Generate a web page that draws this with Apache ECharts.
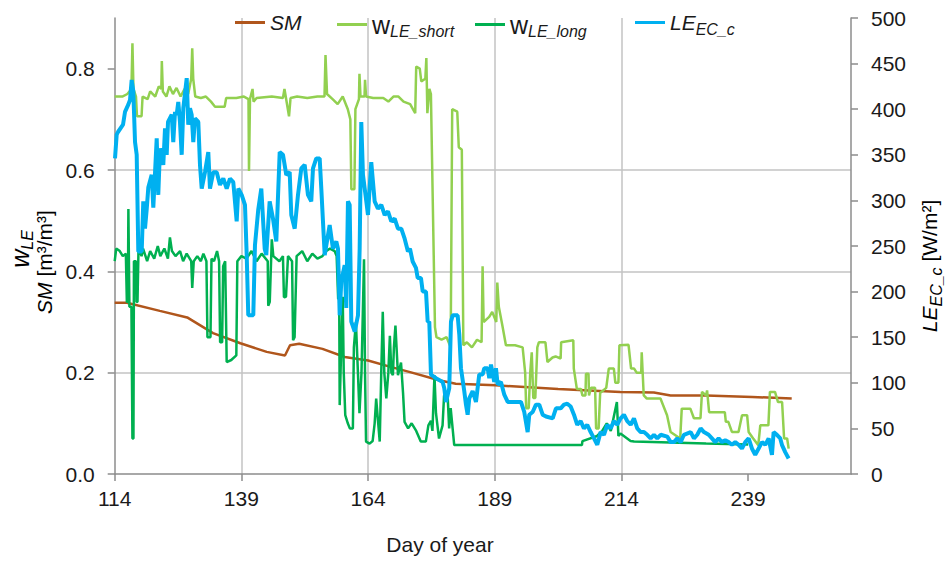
<!DOCTYPE html>
<html><head><meta charset="utf-8">
<script src="https://cdn.jsdelivr.net/npm/echarts@6/dist/echarts.min.js"></script>
<style>html,body{margin:0;padding:0;background:#fff}#c{width:946px;height:562px}</style>
</head><body><div id="c"></div>
<script>
// ---- data ----
const xTicks = [114, 139, 164, 189, 214, 239];
const leftTicks = [0, 0.2, 0.4, 0.6, 0.8];
const rightTicks = [0, 50, 100, 150, 200, 250, 300, 350, 400, 450, 500];

const smDays = [114,116.4,122.9,128.3,133.4,138.8,144,147.6,148.6,150.4,155,159.4,164,168.6,172.3,178,181.3,189.2,201.5,213.8,220.4,223.7,230.7,239.8,247.6];
const smVals = [0.338,0.338,0.322,0.309,0.278,0.258,0.241,0.234,0.254,0.257,0.247,0.231,0.224,0.211,0.201,0.185,0.178,0.175,0.168,0.162,0.161,0.155,0.155,0.152,0.149];

const wShortDays = [114.0,115.5,116.5,117.3,117.5,117.7,118.2,118.4,119.3,119.5,120.5,121.0,122.0,122.7,123.2,123.3,123.5,124.2,124.8,125.5,126.2,127.0,127.8,128.5,129.1,129.3,129.5,129.9,131.0,132.0,133.0,133.8,135.7,136.0,138.0,139.5,140.4,140.5,140.7,141.2,141.4,142.0,145.0,147.2,147.5,147.8,148.4,148.7,150.0,152.0,154.0,155.4,155.6,155.9,157.0,158.0,159.0,160.0,160.5,160.7,161.3,161.5,162.2,162.3,162.5,163.3,163.4,163.6,165.0,167.0,168.0,169.0,170.0,171.0,172.3,173.3,173.5,174.2,174.5,175.3,175.5,175.7,176.1,176.4,177.2,177.5,178.5,179.5,180.3,180.6,181.6,181.9,182.5,182.8,183.5,184.5,185.5,186.4,186.6,186.8,187.9,188.5,189.3,189.5,189.8,190.5,191.2,193.0,194.5,195.0,195.2,195.7,196.0,196.3,196.6,197.0,197.4,197.7,199.0,199.4,200.4,201.0,202.0,202.1,204.5,204.6,205.2,206.0,206.3,206.9,207.0,207.5,207.6,208.0,208.8,209.0,209.5,209.8,211.0,211.5,212.5,212.8,213.4,213.6,215.4,215.9,216.5,217.0,217.9,218.0,218.4,219.0,221.7,223.0,223.7,225.6,225.9,227.6,228.3,229.6,229.9,230.7,230.9,231.3,234.4,234.6,235.1,235.8,237.1,237.8,238.8,239.1,240.0,241.0,241.4,243.0,243.3,244.3,244.9,245.7,246.1,246.7,247.0];
const wShortVals = [0.745,0.745,0.75,0.76,0.85,0.76,0.745,0.706,0.706,0.745,0.74,0.755,0.745,0.765,0.76,0.815,0.755,0.745,0.765,0.75,0.762,0.745,0.76,0.75,0.78,0.84,0.78,0.745,0.742,0.745,0.735,0.725,0.725,0.742,0.742,0.745,0.74,0.598,0.74,0.76,0.735,0.742,0.745,0.742,0.76,0.742,0.706,0.742,0.745,0.742,0.745,0.745,0.827,0.75,0.74,0.73,0.745,0.72,0.70,0.562,0.562,0.72,0.74,0.79,0.745,0.745,0.778,0.745,0.742,0.742,0.735,0.745,0.745,0.735,0.73,0.712,0.804,0.80,0.775,0.78,0.821,0.712,0.76,0.75,0.29,0.27,0.265,0.27,0.25,0.72,0.715,0.645,0.64,0.254,0.26,0.25,0.265,0.26,0.41,0.30,0.31,0.32,0.30,0.378,0.33,0.293,0.254,0.254,0.25,0.20,0.13,0.13,0.20,0.24,0.15,0.15,0.25,0.26,0.26,0.221,0.23,0.232,0.228,0.26,0.264,0.208,0.168,0.168,0.155,0.155,0.198,0.198,0.155,0.17,0.17,0.09,0.09,0.16,0.17,0.208,0.208,0.18,0.18,0.254,0.255,0.208,0.208,0.20,0.20,0.24,0.155,0.149,0.149,0.116,0.083,0.07,0.129,0.129,0.11,0.11,0.162,0.155,0.165,0.122,0.122,0.103,0.103,0.083,0.083,0.116,0.116,0.083,0.07,0.057,0.096,0.096,0.162,0.162,0.142,0.142,0.07,0.07,0.05];

const wLongDays = [114.0,114.3,115.0,115.6,116.2,116.4,116.6,116.7,116.9,117.3,117.5,117.7,117.8,118.2,118.3,118.5,118.7,119.3,119.6,120.4,121.0,121.8,122.5,123.0,123.8,124.5,124.9,125.3,126.0,126.9,127.5,128.2,129.1,129.3,129.6,130.3,131.0,131.5,132.1,132.3,132.9,133.1,133.6,134.2,134.6,134.8,135.2,135.4,135.8,136.1,137.0,138.0,138.2,139.0,140.0,141.0,142.0,143.0,144.2,144.3,144.6,145.0,145.3,146.5,147.2,147.4,147.8,148.2,149.0,149.2,149.5,149.9,151.0,152.0,153.0,154.0,155.0,155.7,156.5,157.4,157.8,158.1,158.3,158.4,158.7,159.0,159.2,159.5,160.0,160.4,161.0,161.2,161.6,162.0,162.3,162.7,163.2,163.4,163.6,164.3,164.9,165.3,165.6,166.0,166.3,166.6,166.9,167.2,167.6,168.0,168.3,168.6,168.9,169.1,169.4,169.9,170.5,170.9,171.2,171.9,172.6,173.5,174.4,175.4,175.9,176.4,176.7,177.1,177.4,178.0,178.7,179.0,179.7,180.0,180.3,181.0,206.2,206.3,209.2,210.2,211.1,211.9,213.1,213.4,213.8,215.8,216.5,230.7,239.0];
const wLongVals = [0.42,0.445,0.44,0.43,0.435,0.339,0.34,0.523,0.33,0.33,0.07,0.07,0.42,0.42,0.339,0.34,0.445,0.43,0.445,0.42,0.44,0.425,0.45,0.43,0.445,0.425,0.467,0.44,0.43,0.44,0.42,0.435,0.42,0.367,0.42,0.43,0.42,0.435,0.42,0.27,0.27,0.425,0.42,0.44,0.42,0.26,0.26,0.41,0.42,0.221,0.225,0.234,0.42,0.43,0.425,0.44,0.42,0.435,0.42,0.332,0.34,0.463,0.43,0.42,0.43,0.349,0.35,0.43,0.42,0.264,0.27,0.43,0.44,0.42,0.435,0.425,0.43,0.44,0.445,0.44,0.43,0.345,0.35,0.136,0.25,0.35,0.2,0.116,0.1,0.09,0.09,0.25,0.3,0.2,0.12,0.2,0.424,0.2,0.064,0.06,0.065,0.1,0.149,0.1,0.064,0.2,0.32,0.2,0.149,0.2,0.273,0.2,0.195,0.25,0.293,0.195,0.22,0.16,0.103,0.09,0.1,0.085,0.064,0.064,0.096,0.105,0.085,0.195,0.12,0.07,0.096,0.155,0.155,0.09,0.13,0.057,0.057,0.065,0.075,0.085,0.1,0.085,0.142,0.075,0.08,0.065,0.064,0.06,0.058];

const leDays = [114.06,114.39,114.65,115.64,116.03,116.68,117.02,117.35,117.67,118.01,118.34,118.66,119.33,119.64,119.98,120.31,120.63,121.3,121.62,122.29,122.6,122.94,123.59,123.93,124.26,124.52,125.25,125.56,125.9,126.23,126.55,126.88,127.22,127.54,128.21,128.52,128.86,129.19,129.51,129.84,130.5,130.83,131.17,131.82,132.47,132.8,133.46,134.13,134.78,135.43,136.1,136.75,137.4,138.07,138.39,139.06,139.71,140.05,140.36,141.35,141.68,142.33,142.93,143.6,143.91,144.58,145.24,145.89,146.56,147.21,147.86,148.53,148.85,149.52,150.17,150.82,151.49,152.14,152.79,153.13,153.78,154.45,154.77,155.44,156.09,156.42,157.07,157.73,158.06,158.4,158.71,159.38,159.7,160.03,160.37,160.69,161.36,162.01,162.34,162.66,162.99,163.65,163.98,164.63,165.3,165.95,166.61,167.28,167.93,168.58,169.25,169.9,170.55,171.22,171.87,172.27,172.8,173.45,173.79,174.44,174.78,175.43,175.76,176.08,176.41,177.4,178.72,179.04,179.37,180.02,180.36,180.69,181.68,182.0,182.33,182.98,183.32,183.65,183.97,184.64,185.29,185.94,186.61,186.93,187.6,187.92,188.25,188.9,189.24,189.57,190.22,190.88,191.55,192.2,193.19,194.17,194.82,195.49,195.81,196.48,197.13,197.78,198.45,199.11,200.43,201.08,202.01,202.66,203.31,203.98,204.63,205.28,205.95,206.6,207.25,207.92,208.58,209.23,209.9,210.55,211.2,211.87,212.52,213.17,213.84,214.49,215.15,215.82,216.47,217.12,217.79,218.44,219.09,219.76,220.41,221.07,221.74,223.04,223.71,224.36,225.01,225.68,226.33,227.66,228.31,228.96,229.63,230.28,231.21,231.86,232.51,233.18,233.83,234.48,235.15,235.8,236.46,237.13,237.78,238.43,239.1,239.75,240.4,241.07,241.73,242.38,243.05,243.7,244.03,244.68,245.34,245.67,246.32,246.99];
const leVals = [346,372,375,383,397,405,410,432,420,364,350,244,244,299,269,290,314,328,292,368,306,357,339,379,350,386,394,364,397,394,408,386,350,401,434,383,401,394,364,390,386,339,313,331,353,313,331,331,317,324,313,324,320,277,313,306,295,240,174,174,251,290,313,247,240,299,280,255,353,350,328,331,284,269,306,335,339,306,299,335,346,346,313,240,262,273,247,255,247,174,211,229,182,299,295,167,156,174,247,386,328,299,284,342,299,291,295,284,288,277,280,269,269,258,244,247,233,226,215,215,200,200,167,167,109,105,101,94,79,94,167,174,174,153,116,91,76,65,83,91,79,109,109,116,116,105,120,101,116,98,101,87,79,79,79,79,68,46,65,68,76,76,65,63,61,72,72,76,77,74,65,54,58,50,54,46,39,32,46,43,54,50,58,54,61,65,58,54,61,50,46,46,43,39,43,39,43,41,35,35,39,35,43,46,39,43,50,46,43,39,35,39,35,37,35,32,35,32,28,35,39,28,21,28,35,32,39,21,46,43,39,32,24,17];

// ---- chart ----
const zip = (a, b) => a.map((d, i) => [d, b[i]]);
const FONT = '"Liberation Sans", Arial, sans-serif';
const TXT = '#1a1a1a';
const AXIS = '#8c8c8c';
const GRID = '#c3c3c3';
const C_SM = '#b0561c', C_WS = '#92d050', C_WL = '#00b050', C_LE = '#00b0f0';

const rich = {
  n: {fontFamily: FONT, fontSize: 25, color: TXT, lineHeight: 30, verticalAlign: 'middle'},
  it: {fontFamily: FONT, fontSize: 21, fontStyle: 'italic', color: TXT, lineHeight: 30, verticalAlign: 'middle'},
  iw: {fontFamily: FONT, fontSize: 25, fontStyle: 'italic', color: TXT, lineHeight: 30, verticalAlign: 'middle'},
  s: {fontFamily: FONT, fontSize: 16, fontStyle: 'italic', color: TXT, lineHeight: 16, verticalAlign: 'bottom'}
};
const legendLabels = {
  'SM': '{it|SM}',
  'wshort': '{n|w}{s|LE_short}',
  'wlong': '{n|w}{s|LE_long}',
  'LE': '{it|LE}{s|EC_c}'
};
function mkLegend(name, left) {
  return {
    data: [name], left: left, top: 12, padding: 0, itemWidth: 30, itemHeight: 3,
    icon: 'rect', selectedMode: false,
    formatter: n => legendLabels[n],
    textStyle: {rich: rich, fontFamily: FONT, fontSize: 21, color: TXT}
  };
}

const chart = echarts.init(document.getElementById('c'), null, {renderer: 'svg'});
chart.setOption({
  animation: false,
  backgroundColor: '#fff',
  grid: {left: 114.7, right: 95, top: 18, bottom: 88, containLabel: false, outerBoundsMode: 'none'},
  legend: [mkLegend('SM', 235), mkLegend('wshort', 337), mkLegend('wlong', 475), mkLegend('LE', 635)],
  xAxis: {
    type: 'value', min: 114, max: 259.3, interval: 25,
    axisLine: {show: true, onZero: false, lineStyle: {color: AXIS, width: 1.5}},
    axisTick: {show: true, length: 7, lineStyle: {color: AXIS, width: 1.5}, customValues: xTicks},
    axisLabel: {customValues: xTicks, margin: 14, fontFamily: FONT, fontSize: 21, color: TXT},
    splitLine: {show: true, showMinLine: false, showMaxLine: false, lineStyle: {color: GRID, width: 1.5}}
  },
  yAxis: [{
    type: 'value', min: 0, max: 0.9, interval: 0.2, position: 'left',
    axisLine: {show: true, lineStyle: {color: AXIS, width: 1.5}},
    axisTick: {show: true, length: 7, lineStyle: {color: AXIS, width: 1.5}, customValues: leftTicks},
    axisLabel: {customValues: leftTicks, margin: 20, fontFamily: FONT, fontSize: 21, color: TXT,
      formatter: v => v.toFixed(1)},
    splitLine: {show: true, showMinLine: false, showMaxLine: false, lineStyle: {color: GRID, width: 1.5}}
  }, {
    type: 'value', min: 0, max: 500, interval: 50, position: 'right',
    axisLine: {show: true, lineStyle: {color: AXIS, width: 1.5}},
    axisTick: {show: true, length: 7, lineStyle: {color: AXIS, width: 1.5}, customValues: rightTicks},
    axisLabel: {customValues: rightTicks, margin: 20, fontFamily: FONT, fontSize: 21, color: TXT},
    splitLine: {show: false}
  }],
  graphic: [
    {type: 'text', x: 20, y: 249, rotation: Math.PI / 2,
      style: {text: '{iw|w}{s|LE}', rich: rich, align: 'center', verticalAlign: 'middle'}},
    {type: 'text', x: 44, y: 262, rotation: Math.PI / 2,
      style: {text: '{it|SM}{n| [m³/m³]}', rich: {it: {fontFamily: FONT, fontSize: 21, fontStyle: 'italic', color: TXT}, n: {fontFamily: FONT, fontSize: 21, color: TXT}}, align: 'center', verticalAlign: 'middle'}},
    {type: 'text', x: 929, y: 266, rotation: Math.PI / 2,
      style: {text: '{it|LE}{s|EC_c}{n| [W/m²]}', rich: {it: rich.it, s: rich.s, n: {fontFamily: FONT, fontSize: 21, color: TXT, lineHeight: 30, verticalAlign: 'middle'}}, align: 'center', verticalAlign: 'middle'}},
    {type: 'text', x: 440, y: 544,
      style: {text: 'Day of year', fontFamily: FONT, fontSize: 21, fill: TXT, align: 'center', verticalAlign: 'middle'}}
  ],
  series: [
    {name: 'SM', type: 'line', yAxisIndex: 0, data: zip(smDays, smVals), showSymbol: false, symbol: 'none',
      lineStyle: {color: C_SM, width: 2.5}, itemStyle: {color: C_SM}, z: 2},
    {name: 'wshort', type: 'line', yAxisIndex: 0, data: zip(wShortDays, wShortVals), showSymbol: false, symbol: 'none',
      lineStyle: {color: C_WS, width: 2.5}, itemStyle: {color: C_WS}, z: 2},
    {name: 'wlong', type: 'line', yAxisIndex: 0, data: zip(wLongDays, wLongVals), showSymbol: false, symbol: 'none',
      lineStyle: {color: C_WL, width: 2.5}, itemStyle: {color: C_WL}, z: 2},
    {name: 'LE', type: 'line', yAxisIndex: 1, data: zip(leDays, leVals), showSymbol: false, symbol: 'none',
      lineStyle: {color: C_LE, width: 4}, itemStyle: {color: C_LE}, z: 2}
  ]
});
</script></body></html>
